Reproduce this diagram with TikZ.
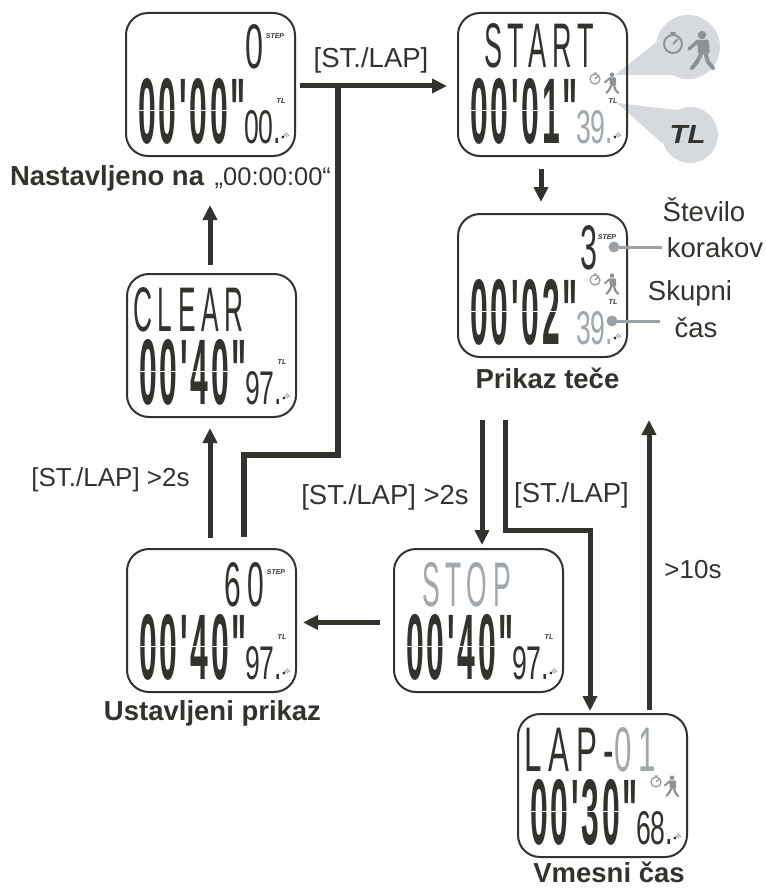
\documentclass[tikz,border=0pt]{standalone}
\usepackage{fontspec}
\usepackage{graphicx}
\setmainfont{Liberation Sans}
\newfontfamily\lcdf{Liberation Sans}
\newfontfamily\lcdb[LetterSpace=9]{Liberation Sans Bold}
\newfontfamily\lcdw[LetterSpace=22]{Liberation Sans}
\usetikzlibrary{arrows.meta}
\definecolor{ink}{HTML}{33332E}
\definecolor{lcdgray}{HTML}{A0A8AE}
\definecolor{icon}{HTML}{8C9296}
\definecolor{bubble}{HTML}{D6D9DE}
\definecolor{lead}{HTML}{9AA2A8}
\tikzset{
  x=1pt,y=-1pt,
  lcdframe/.style={draw=ink,line width=2pt,rounded corners=22pt,minimum width=169pt,minimum height=143pt,inner sep=0pt,outer sep=0pt},
  glyph/.style={anchor=north west,inner sep=0pt,outer sep=0pt},
  flow/.style={draw=ink,line width=5pt,-{Triangle[width=14pt,length=15pt]}},
  thickwire/.style={draw=ink,line width=6pt},
  leader/.style={draw=lead,line width=3pt},
  label/.style={inner sep=0pt,outer sep=0pt,text=ink,font=\fontsize{27.5}{29}\selectfont},
  smalllabel/.style={inner sep=0pt,outer sep=0pt,text=ink,font=\fontsize{26}{28}\selectfont},
  caption/.style={inner sep=0pt,outer sep=0pt,text=ink,font=\fontsize{27.5}{29}\selectfont\bfseries},
}
% #1 name, #2 x, #3 y, #4 large row, #5 small row, #6 colour of the small row
\newcommand\lcdunit[6]{%
  \node[lcdframe] (#1) at (#2+84.5,#3+71.5) {};
  \node[glyph,text=ink] (#1big) at (#2+12,#3+65) {\resizebox{108pt}{65pt}{\lcdb 00'#4"}};
  \node[glyph,text=#6] (#1small) at (#2+118,#3+97) {\resizebox{37pt}{33pt}{\lcdf #5.}};
  \draw[white,line width=1.3pt] (#2+11,#3+97.5) -- (#2+114,#3+97.5);
  \fill[ink] (#2+157,#3+124) circle (1.6pt);
  \draw[icon,line width=.8pt] (#2+158,#3+121) -- (#2+161,#3+124) (#2+159.5,#3+119.5) -- (#2+163,#3+123);
}
\newcommand\lcdtop[7]{% name, unit x, unit y, left, top, width, text
  \node[glyph,text=ink] (#1) at (#2+#4,#3+#5) {\resizebox{#6pt}{44pt}{\lcdw #7}};
}
\newcommand\stepmark[3]{\node[inner sep=0pt,text=ink,font=\fontsize{7}{7}\selectfont\bfseries\itshape] (#1) at (#2+149,#3+23) {STEP};}
\newcommand\tlmark[3]{\node[inner sep=0pt,text=ink,font=\fontsize{7}{7}\selectfont\bfseries\itshape] (#1) at (#2+155,#3+88) {TL};}
\newcommand\stopwatch[4]{% x y radius colour
  \draw[#4,line width=#3*0.22pt] (#1,#2) circle (#3pt);
  \draw[#4,line width=#3*0.22pt] (#1,#2) -- (#1+#3*.55,#2-#3*.55) (#1-#3*.3,#2-#3*1.2) -- (#1+#3*.3,#2-#3*1.2);
}
\newcommand\walkerfig[4]{% x y scale colour
  \begin{scope}[shift={(#1,#2)},scale=#3]
    \fill[#4] (0,-15) circle (4.2);
    \fill[#4] (-5,-10) -- (5,-10) -- (7,3) -- (-4,3) -- cycle;
    \draw[#4,line width=#3*3.5pt,line cap=round] (-4,-9) -- (-13,-1) (5,-9) -- (6,2);
    \draw[#4,line width=#3*4pt,line cap=round,line join=round] (0,2) -- (-5,12) -- (-10,18) (3,2) -- (6,12) -- (11,18);
  \end{scope}
}
\begin{document}
\begin{tikzpicture}
\useasboundingbox (0,0) rectangle (765,888);
% callouts
\fill[bubble] (615,75) -- (663,37) -- (688,47) -- (673,75) -- cycle;
\fill[bubble] (688,47) circle (32pt);
\fill[bubble] (617,103) -- (677,110) -- (690,135) -- (662,143) -- cycle;
\fill[bubble] (690,135) circle (28pt);
\stopwatch{673}{44}{9}{icon}
\walkerfig{702}{50}{1}{icon}
\node[inner sep=0pt,text=ink] (bigtl) at (687.5,134) {\resizebox{36pt}{18pt}{\bfseries\itshape TL}};
% displays
\lcdunit{init}{126}{13}{00}{00}{ink}
\lcdtop{inittop}{126}{13}{119}{11}{18}{0}
\stepmark{initstep}{126}{13}\tlmark{inittl}{126}{13}
\lcdunit{start}{458}{13}{01}{39}{lcdgray}
\lcdtop{starttop}{458}{13}{26}{10}{110}{START}
\tlmark{starttl}{458}{13}
\stopwatch{595}{79}{5}{icon}\walkerfig{612}{83}{.55}{icon}
\lcdunit{run}{458}{214}{02}{39}{lcdgray}
\lcdtop{runtop}{458}{214}{122}{11}{17}{3}
\stepmark{runstep}{458}{214}\tlmark{runtl}{458}{214}
\stopwatch{595}{280}{5}{icon}\walkerfig{612}{284}{.55}{icon}
\lcdunit{clear}{127}{274}{40}{97}{ink}
\lcdtop{cleartop}{127}{274}{6}{13}{111}{CLEAR}
\tlmark{cleartl}{127}{274}
\lcdunit{stopped}{127}{549}{40}{97}{ink}
\lcdtop{stoppedtop}{127}{549}{97}{13}{40}{60}
\stepmark{stoppedstep}{127}{549}\tlmark{stoppedtl}{127}{549}
\lcdunit{halt}{394}{549}{40}{97}{ink}
\node[glyph,text=lcdgray] (halttop) at (394+28,549+13) {\resizebox{89pt}{44pt}{\lcdw STOP}};
\tlmark{halttl}{394}{549}
\lcdunit{lap}{518}{714}{30}{68}{ink}
\node[glyph,text=ink] (laptop) at (518+6,714+13) {\resizebox{132pt}{44pt}{\lcdw LAP-\textcolor{lcdgray}{01}}};
\stopwatch{656}{782}{5}{icon}\walkerfig{672}{786}{.55}{icon}
% captions
\node[caption,anchor=west] (capinit) at (10,178) {Nastavljeno na\hspace{3pt} {\fontsize{25.5}{27}\selectfont\mdseries „00:00:00“}};
\node[caption,anchor=center] (caprun) at (547.5,378) {Prikaz teče};
\node[caption,anchor=center] (capstop) at (212.5,713) {Ustavljeni prikaz};
\node[caption,anchor=center] (caplap) at (609,872) {Vmesni čas};
% side labels
\node[label] (stevilo) at (704,210) {Število};
\node[label] (korakov) at (715,248) {korakov};
\node[label] (skupni) at (690,293) {Skupni};
\node[label] (cas) at (696,328) {čas};
\coordinate (stepdot) at (614,247);
\coordinate (stepend) at (662,247);
\coordinate (timedot) at (612,321);
\coordinate (timeend) at (660,321);
\draw[leader] (stepdot) -- (stepend);
\draw[leader] (timedot) -- (timeend);
\fill[lead] (stepdot) circle (5.5pt);
\fill[lead] (timedot) circle (5.5pt);
% connector way points
\coordinate (initout) at (300,86);
\coordinate (startin) at (447,86);
\coordinate (tee) at (338,86);
\coordinate (teeelbow) at (338,455);
\coordinate (backelbow) at (244,455);
\coordinate (backend) at (244,537);
\coordinate (runa) at (482,420);
\coordinate (runb) at (505,420);
\coordinate (lapbend1) at (505,530);
\coordinate (lapbend2) at (590,530);
% connectors
\draw[flow] (initout) -- (startin);
\draw[thickwire] (tee) -- (teeelbow) -- (backelbow) -- (backend);
\draw[flow] ([xshift=-1.5pt,yshift=-13pt]start.south) -- ([xshift=-1.5pt,yshift=12pt]run.north);
\draw[flow] (runa) -- ([yshift=4pt]runa |- halt.north);
\draw[flow] (runb) -- (lapbend1) -- (lapbend2) -- ([yshift=3pt]lapbend2 |- lap.north);
\draw[flow] ([xshift=46.5pt,yshift=4pt]lap.north) -- (649,420);
\draw[flow] ([xshift=-14pt,yshift=-2pt]halt.west) -- ([xshift=7pt,yshift=-2pt]stopped.east);
\draw[flow] ([xshift=-1.5pt,yshift=11pt]stopped.north) -- ([xshift=-1.5pt,yshift=-11pt]clear.south);
\draw[flow] ([xshift=-1.5pt,yshift=9pt]clear.north) -- (210,205);
% edge labels
\node[label,anchor=center] (lblgo) at (371,60) {[ST./LAP]};
\node[smalllabel,anchor=center] (lblclear) at (110.5,480) {[ST./LAP] >2s};
\node[label,anchor=center] (lblstop) at (385,497) {[ST./LAP] >2s};
\node[label,anchor=center] (lbllap) at (571.5,495) {[ST./LAP]};
\node[smalllabel,anchor=center] (lbllong) at (693,570) {>10s};
\end{tikzpicture}
\end{document}
